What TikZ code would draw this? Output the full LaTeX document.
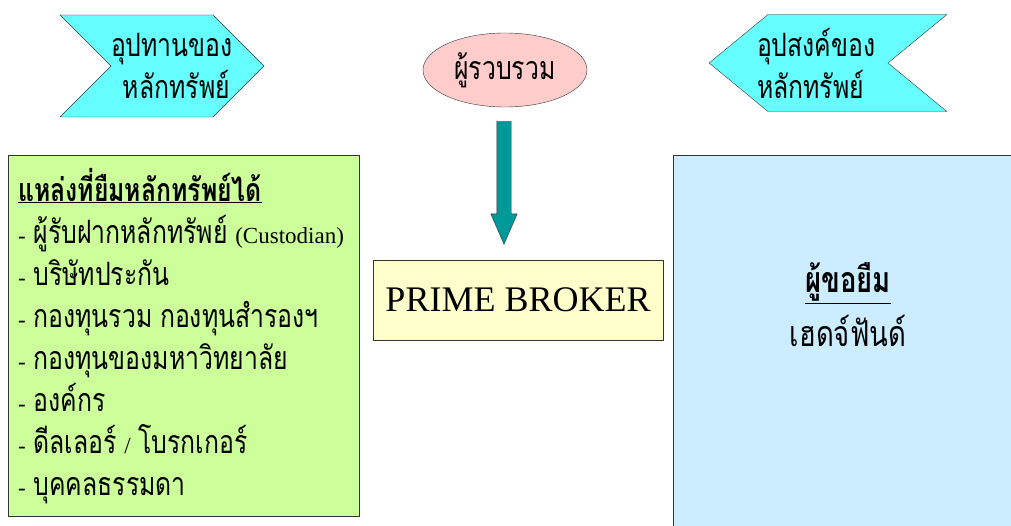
\documentclass[tikz,border=0pt]{standalone}
\usepackage{fontspec}
\setmainfont{Liberation Serif}
\newfontfamily\thaifont[Script=Thai,FakeStretch=0.77,Scale=1.4]{Loma}
\newcommand{\thaitxt}[1]{{\thaifont #1}}
\usetikzlibrary{shapes,arrows,positioning}
\definecolor{chevcyan}{HTML}{66FFFF}
\definecolor{gatherpink}{HTML}{FFCCCC}
\definecolor{flowteal}{HTML}{009999}
\definecolor{lendgreen}{HTML}{CCFF99}
\definecolor{brokeryellow}{HTML}{FFFFCC}
\definecolor{borrowblue}{HTML}{CCECFF}

\begin{document}
\begin{tikzpicture}[x=1pt, y=-1pt, >=latex']
    \tikzstyle{chevron}  = [draw=black!80, signal, fill=chevcyan, inner sep=0pt, font=\fontsize{23}{42}\selectfont]
    \tikzstyle{gather}   = [draw=black!80, ellipse, fill=gatherpink, minimum width=164pt, minimum height=74pt, inner sep=0pt, font=\fontsize{23}{30}\selectfont]
    \tikzstyle{flowarrow}= [draw=black!80, single arrow, fill=flowteal, minimum width=26pt, minimum height=123pt, single arrow head extend=6pt, single arrow tip angle=47, inner sep=7pt, rotate=-90]
    \tikzstyle{panel}    = [draw=black!80, rectangle, anchor=north west, inner sep=10pt]
    \tikzstyle{broker}   = [draw=black!80, rectangle, fill=brokeryellow, minimum width=290pt, minimum height=80pt, font=\fontsize{36}{40}\selectfont]

    \useasboundingbox (0,0) rectangle (1011,526);

    % Top row
    \node [chevron, signal from=west, signal to=east, signal pointer angle=90, minimum height=102pt, text width=102pt, align=right] (supply) at (162,66) {\thaitxt{อุปทานของ}\kern-17pt\\\thaitxt{หลักทรัพย์}\kern-17pt};
    \node [gather] (gatherer) at (505,70) {\thaitxt{ผู้รวบรวม}};
    \node [chevron, signal from=east, signal to=west, signal pointer angle=79, minimum height=97pt, text width=120pt, align=left] (demand) at (828,63) {\hspace*{-11pt}\thaitxt{อุปสงค์ของ}\\\hspace*{-11pt}\thaitxt{หลักทรัพย์}};

    % Middle
    \node [flowarrow] (flow) at (504,174.5) {};
    \node [broker] (primebroker) at (518,300) {PRIME BROKER};

    % Side panels
    \node [panel, fill=lendgreen, minimum width=351pt, minimum height=361pt, text width=331pt, align=left, font=\fontsize{23}{42}\selectfont] (lenders) at (8,155) {%
        \underline{\thaitxt{\bfseries แหล่งที่ยืมหลักทรัพย์ได้}}\\
        - \thaitxt{ผู้รับฝากหลักทรัพย์} (Custodian)\\
        - \thaitxt{บริษัทประกัน}\\
        - \thaitxt{กองทุนรวม กองทุนสำรองฯ}\\
        - \thaitxt{กองทุนของมหาวิทยาลัย}\\
        - \thaitxt{องค์กร}\\
        - \thaitxt{ดีลเลอร์} / \thaitxt{โบรกเกอร์}\\
        - \thaitxt{บุคคลธรรมดา}};
    \node [panel, fill=borrowblue, minimum width=360pt, minimum height=400pt] (borrower) at (673,155) {};
    \node [align=center, font=\fontsize{25.5}{54}\selectfont] (hedgefund) at (848,305) {\underline{\thaitxt{\bfseries ผู้ขอยืม}}\\\thaitxt{เฮดจ์ฟันด์}};

\end{tikzpicture}
\end{document}
